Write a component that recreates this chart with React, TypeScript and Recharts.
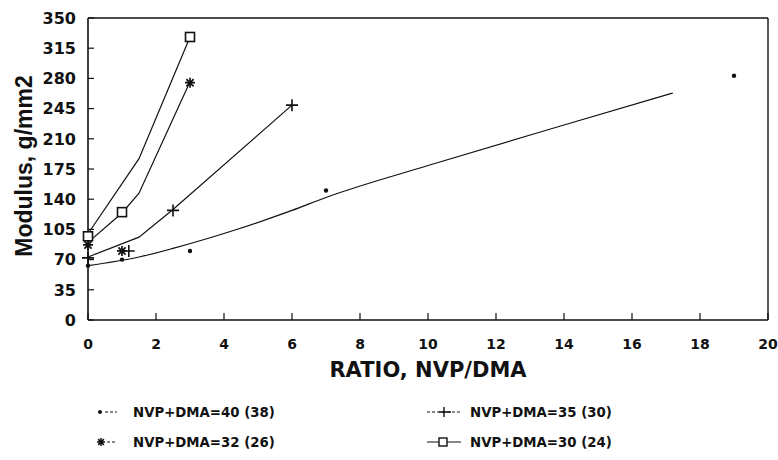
import React from 'react';
import { ComposedChart, Line, Scatter, XAxis, YAxis, ReferenceLine, Label } from 'recharts';

// axis ticks
const xTicks = [0, 2, 4, 6, 8, 10, 12, 14, 16, 18, 20];
const yTicks = [0, 35, 70, 105, 140, 175, 210, 245, 280, 315, 350];

// measured points (ratio NVP/DMA, modulus g/mm2)
const dma40X = [0, 1, 3, 7, 19];
const dma40Y = [63, 70, 80, 150, 283];
const dma35X = [0, 1.2, 2.5, 6];
const dma35Y = [72, 80, 127, 249];
const dma32X = [0, 1, 3];
const dma32Y = [87, 80, 275];
const dma30X = [0, 1, 3];
const dma30Y = [97, 125, 328];

// fitted curves as drawn
const fit40X = [0, 1.5, 2.5, 4.3, 6, 7, 10, 14, 17.2];
const fit40Y = [63, 73, 83, 104, 127, 142, 179, 226, 263];
const fit35X = [0, 1.5, 2.5, 6];
const fit35Y = [73, 96, 128, 249];
const fit32X = [0, 1, 1.5, 3];
const fit32Y = [90, 124, 147, 276];
const fit30X = [0, 1.5, 3];
const fit30Y = [100, 187, 328];

const zip = (xs: number[], ys: number[]) => xs.map((x, i) => ({ x, y: ys[i] }));

const INK = '#111';
const FONT = '"DejaVu Sans", sans-serif';

const DotShape = (p: any) => <circle cx={p.cx} cy={p.cy} r={2.2} fill={INK} />;

const PlusShape = (p: any) => (
  <path
    d={`M${p.cx - 6},${p.cy}H${p.cx + 6}M${p.cx},${p.cy - 6}V${p.cy + 6}`}
    stroke={INK}
    strokeWidth={1.6}
    fill="none"
  />
);

const starPath = (cx: number, cy: number, r: number) => {
  const d = r * 0.72;
  return `M${cx - r},${cy}H${cx + r}M${cx},${cy - r}V${cy + r}` +
    `M${cx - d},${cy - d}L${cx + d},${cy + d}M${cx - d},${cy + d}L${cx + d},${cy - d}`;
};

const StarShape = (p: any) => (
  <path d={starPath(p.cx, p.cy, 5)} stroke={INK} strokeWidth={1.7} fill="none" />
);

const SquareShape = (p: any) => (
  <rect x={p.cx - 4.5} y={p.cy - 4.5} width={9} height={9} fill="#fff" stroke={INK} strokeWidth={1.6} />
);

// inward ticks, drawn with the label
const YTick = (p: any) => {
  const { x, y, payload } = p;
  return (
    <g>
      <line x1={x + 12} x2={x + 18} y1={y} y2={y} stroke={INK} strokeWidth={1.2} />
      <text x={x} y={y} dy="0.36em" textAnchor="end" fontFamily={FONT} fontWeight="bold" fontSize={16} fill={INK}>
        {payload.value}
      </text>
    </g>
  );
};

const XTick = (p: any) => {
  const { x, y, payload } = p;
  return (
    <g>
      <line x1={x} x2={x} y1={y} y2={y - 7} stroke={INK} strokeWidth={1.2} />
      <text x={x} y={y + 29} textAnchor="middle" fontFamily={FONT} fontWeight="bold" fontSize={14} fill={INK}>
        {payload.value}
      </text>
    </g>
  );
};

const legendItems = [
  { label: 'NVP+DMA=40 (38)', kind: 'dot', col: 0, row: 0 },
  { label: 'NVP+DMA=35 (30)', kind: 'plus', col: 1, row: 0 },
  { label: 'NVP+DMA=32 (26)', kind: 'star', col: 0, row: 1 },
  { label: 'NVP+DMA=30 (24)', kind: 'square', col: 1, row: 1 },
];

const LegendIcon = ({ kind, x, y }: { kind: string; x: number; y: number }) => {
  if (kind === 'dot') {
    return (
      <g>
        <circle cx={x + 3} cy={y} r={2} fill={INK} />
        <line x1={x + 8} x2={x + 20} y1={y} y2={y} stroke={INK} strokeWidth={1} strokeDasharray="3 2" />
      </g>
    );
  }
  if (kind === 'star') {
    return (
      <g>
        <path d={starPath(x + 4, y, 4)} stroke={INK} strokeWidth={1.5} fill="none" />
        <line x1={x + 10} x2={x + 20} y1={y} y2={y} stroke={INK} strokeWidth={1} strokeDasharray="3 2" />
      </g>
    );
  }
  if (kind === 'plus') {
    return (
      <g>
        <line x1={x} x2={x + 34} y1={y} y2={y} stroke={INK} strokeWidth={1} strokeDasharray="3 2" />
        <path d={`M${x + 17},${y - 5}V${y + 5}M${x + 12},${y}H${x + 24}`} stroke={INK} strokeWidth={1.4} />
      </g>
    );
  }
  return (
    <g>
      <line x1={x} x2={x + 34} y1={y} y2={y} stroke={INK} strokeWidth={1.2} />
      <rect x={x + 12} y={y - 4} width={8} height={8} fill="#fff" stroke={INK} strokeWidth={1.4} />
    </g>
  );
};

export default function App() {
  return (
    <div style={{ position: 'absolute', left: 0, top: 0, width: 778, height: 460, background: '#fff' }}>
      <ComposedChart width={778} height={460} margin={{ top: 18, right: 10, bottom: 80, left: 0 }}>
        <XAxis
          type="number"
          dataKey="x"
          domain={[0, 20]}
          ticks={xTicks}
          interval={0}
          height={60}
          tickSize={0}
          tickMargin={0}
          tick={XTick}
          tickLine={false}
          axisLine={{ stroke: INK, strokeWidth: 1.6 }}
        >
          <Label
            content={() => (
              <text x={428} y={376.5} textAnchor="middle" fontFamily={FONT} fontWeight="bold" fontSize={21} fill={INK}>
                RATIO, NVP/DMA
              </text>
            )}
          />
        </XAxis>
        <YAxis
          type="number"
          dataKey="y"
          domain={[0, 350]}
          ticks={yTicks}
          interval={0}
          width={88}
          tickSize={0}
          tickMargin={12}
          tick={YTick}
          tickLine={false}
          axisLine={{ stroke: INK, strokeWidth: 1.6 }}
        >
          <Label
            content={() => (
              <text
                transform="translate(32,166) rotate(-90)"
                textAnchor="middle"
                fontFamily='"Liberation Sans", Arial, sans-serif'
                fontWeight="bold"
                fontSize={23}
                fill={INK}
              >
                Modulus, g/mm2
              </text>
            )}
          />
        </YAxis>
        <ReferenceLine y={350} stroke={INK} strokeWidth={1.6} />
        <ReferenceLine x={20} stroke={INK} strokeWidth={1.4} />

        <Line data={zip(fit40X, fit40Y)} dataKey="y" type="monotone" stroke={INK} strokeWidth={1.2} dot={false} isAnimationActive={false} />
        <Line data={zip(fit35X, fit35Y)} dataKey="y" type="linear" stroke={INK} strokeWidth={1.2} dot={false} isAnimationActive={false} />
        <Line data={zip(fit32X, fit32Y)} dataKey="y" type="linear" stroke={INK} strokeWidth={1.2} dot={false} isAnimationActive={false} />
        <Line data={zip(fit30X, fit30Y)} dataKey="y" type="linear" stroke={INK} strokeWidth={1.2} dot={false} isAnimationActive={false} />

        <Scatter data={zip(dma40X, dma40Y)} dataKey="y" shape={DotShape} isAnimationActive={false} />
        <Scatter data={zip(dma35X, dma35Y)} dataKey="y" shape={PlusShape} isAnimationActive={false} />
        <Scatter data={zip(dma32X, dma32Y)} dataKey="y" shape={StarShape} isAnimationActive={false} />
        <Scatter data={zip(dma30X, dma30Y)} dataKey="y" shape={SquareShape} isAnimationActive={false} />
      </ComposedChart>

      <svg width={778} height={70} style={{ position: 'absolute', left: 0, top: 390 }}>
        {legendItems.map((it) => {
          const iconX = it.col === 0 ? 97 : 427;
          const textX = it.col === 0 ? 133 : 470;
          const cy = it.row === 0 ? 22 : 52;
          return (
            <g key={it.label}>
              <LegendIcon kind={it.kind} x={iconX} y={cy} />
              <text x={textX} y={cy} dy="0.36em" fontFamily={FONT} fontWeight="bold" fontSize={13.3} fill={INK}>
                {it.label}
              </text>
            </g>
          );
        })}
      </svg>
    </div>
  );
}
